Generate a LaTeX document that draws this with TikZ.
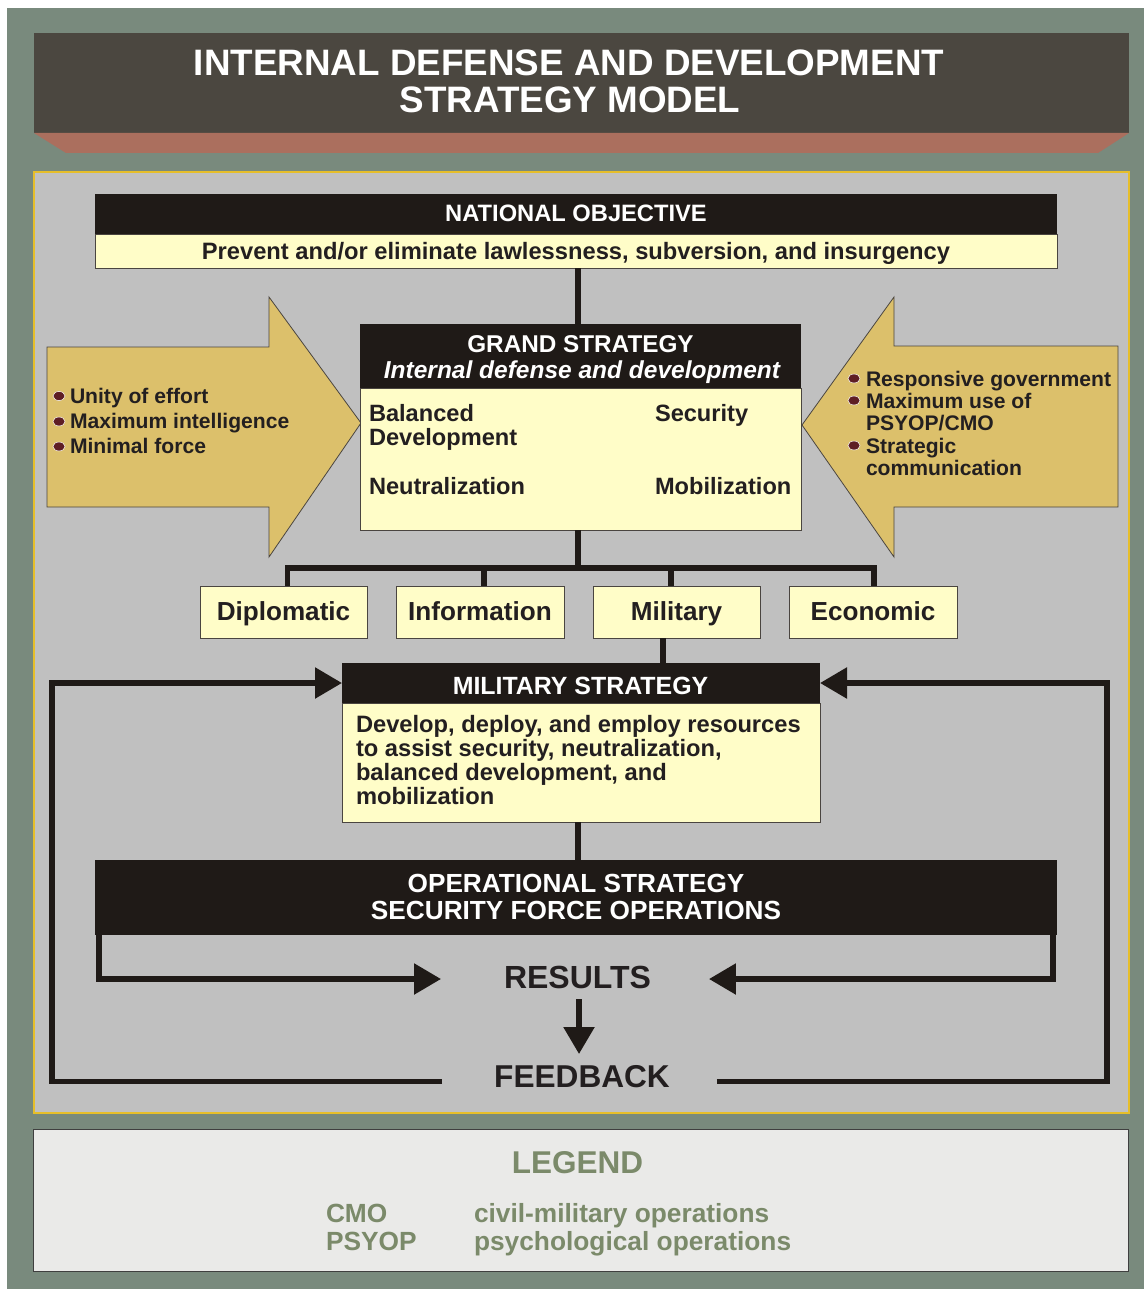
\documentclass[tikz,border=0pt]{standalone}
\usepackage{fontspec}
\setmainfont{Liberation Sans}
\usetikzlibrary{arrows.meta,calc}
\definecolor{bggreen}{HTML}{798A7D}
\definecolor{titlebg}{HTML}{4B4740}
\definecolor{salmon}{HTML}{AB6F5E}
\definecolor{panelgray}{HTML}{C0C0C0}
\definecolor{panelborder}{HTML}{E6BE2A}
\definecolor{hdrblack}{HTML}{1F1A17}
\definecolor{pale}{HTML}{FFFDC8}
\definecolor{gold}{HTML}{DCC06B}
\definecolor{bulletc}{HTML}{5E1E24}
\definecolor{legfill}{HTML}{EAEAE8}
\definecolor{legborder}{HTML}{3F3F3F}
\definecolor{legtext}{HTML}{7B8A6A}
\definecolor{darktext}{HTML}{231F20}
\definecolor{edge}{HTML}{4A4540}
\newcommand{\myfs}[1]{\fontsize{#1}{#1}\selectfont\bfseries}
\begin{document}
\begin{tikzpicture}[x=1pt,y=-1pt,
  box/.style={rectangle,inner sep=0pt,outer sep=0pt,anchor=north west},
  hdr/.style={box,fill=hdrblack},
  body/.style={box,fill=pale,draw=edge,line width=0.9pt},
  lbl/.style={inner sep=0pt,outer sep=0pt,anchor=base,text=darktext},
  lblw/.style={inner sep=0pt,outer sep=0pt,anchor=base west,text=darktext},
  conn/.style={draw=hdrblack,line width=5.5pt},
  arr/.style={-{Triangle[length=27pt,width=30pt]}},
  bigarrow/.style={fill=gold,draw=edge,line width=0.8pt,line join=miter},
  bullet/.style={fill=bulletc,draw=white,line width=0.5pt}
]
\useasboundingbox (0,0) rectangle (1144,1289);
\fill[bggreen] (7,8) rectangle (1144,1289);
% title
\node[box,fill=titlebg,minimum width=1095pt,minimum height=100pt] (titlebox) at (34,33) {};
\fill[salmon] (34,133) -- (1129,133) -- (1098,153) -- (66,153) -- cycle;
\node[lbl,text=white,font=\myfs{36.8}] (t1) at (569,76) {INTERNAL DEFENSE AND DEVELOPMENT};
\node[lbl,text=white,font=\myfs{36.8}] (t2) at (570,113) {STRATEGY MODEL};
% panels
\node[box,fill=panelgray,draw=panelborder,line width=1.2pt,minimum width=1095pt,minimum height=941pt] (panel) at (34,172) {};
\node[box,fill=legfill,draw=legborder,line width=1pt,minimum width=1095pt,minimum height=142pt] (legend) at (33,1129) {};
% side arrows
\draw[bigarrow] (47,347) -- (269,347) -- (269,297) -- (361,423) -- (269,557) -- (269,507) -- (47,507) -- cycle;
\draw[bigarrow] (1118,346) -- (894,346) -- (894,297) -- (802,425) -- (894,557) -- (894,507) -- (1118,507) -- cycle;
% national objective
\node[hdr,minimum width=962pt,minimum height=40pt] (natH) at (95,194) {};
\node[body,minimum width=962pt,minimum height=34pt] (natB) at (95,234) {};
\node[lbl,text=white,font=\myfs{23.7}] (natT) at (576,222) {NATIONAL OBJECTIVE};
\node[lbl,font=\myfs{23.7}] (natS) at (576,259) {Prevent and/or eliminate lawlessness, subversion, and insurgency};
% grand strategy
\node[hdr,minimum width=441pt,minimum height=64pt] (gsH) at (360,324) {};
\node[body,minimum width=441pt,minimum height=142pt] (gsB) at (360,388) {};
\node[lbl,text=white,font=\myfs{24.3}] (gsT) at (580.5,352.5) {GRAND STRATEGY};
\node[lbl,text=white,font=\myfs{24.5}\itshape] (gsI) at (582,378.5) {Internal defense and development};
\node[lblw,font=\myfs{23.6}] (gs1) at (369,421.5) {Balanced};
\node[lblw,font=\myfs{23.6}] (gs2) at (369,445.5) {Development};
\node[lblw,font=\myfs{23.6}] (gs3) at (369,494) {Neutralization};
\node[lblw,font=\myfs{23.6}] (gs4) at (655,421.5) {Security};
\node[lblw,font=\myfs{23.6}] (gs5) at (655,494) {Mobilization};
% left arrow text
\fill[bullet] (59,396) ellipse [x radius=6pt,y radius=4.5pt];
\fill[bullet] (59,421.5) ellipse [x radius=6pt,y radius=4.5pt];
\fill[bullet] (59,446.5) ellipse [x radius=6pt,y radius=4.5pt];
\node[lblw,font=\myfs{21.1}] (la1) at (70,403.5) {Unity of effort};
\node[lblw,font=\myfs{21.1}] (la2) at (70,428.5) {Maximum intelligence};
\node[lblw,font=\myfs{21.1}] (la3) at (70,453.5) {Minimal force};
% right arrow text
\fill[bullet] (854,378.5) ellipse [x radius=6pt,y radius=4.5pt];
\fill[bullet] (854,400.5) ellipse [x radius=6pt,y radius=4.5pt];
\fill[bullet] (854,445.5) ellipse [x radius=6pt,y radius=4.5pt];
\node[lblw,font=\myfs{21.1}] (ra1) at (866,386) {Responsive government};
\node[lblw,font=\myfs{21.1}] (ra2) at (866,408) {Maximum use of};
\node[lblw,font=\myfs{21.1}] (ra3) at (866,430.5) {PSYOP/CMO};
\node[lblw,font=\myfs{21.1}] (ra4) at (866,453) {Strategic};
\node[lblw,font=\myfs{21.1}] (ra5) at (866,475.5) {communication};
% instruments
\node[body,minimum width=167pt,minimum height=52pt] (dip) at (200,586) {};
\node[body,minimum width=168pt,minimum height=52pt] (info) at (396,586) {};
\node[body,minimum width=167pt,minimum height=52pt] (mil) at (593,586) {};
\node[body,minimum width=168pt,minimum height=52pt] (eco) at (789,586) {};
\node[lbl,font=\myfs{26.1}] (dipT) at (283.5,620.5) {Diplomatic};
\node[lbl,font=\myfs{26.1}] (infoT) at (480,620.5) {Information};
\node[lbl,font=\myfs{26.1}] (milT) at (676.5,620.5) {Military};
\node[lbl,font=\myfs{26.1}] (ecoT) at (873,620.5) {Economic};
% military strategy
\node[hdr,minimum width=478pt,minimum height=40pt] (msH) at (342,663) {};
\node[body,minimum width=478pt,minimum height=119pt] (msB) at (342,703) {};
\node[lbl,text=white,font=\myfs{24.9}] (msT) at (580.5,694.5) {MILITARY STRATEGY};
\node[lblw,font=\myfs{23.7}] (ms1) at (356,732) {Develop, deploy, and employ resources};
\node[lblw,font=\myfs{23.7}] (ms2) at (356,756) {to assist security, neutralization,};
\node[lblw,font=\myfs{23.7}] (ms3) at (356,780) {balanced development, and};
\node[lblw,font=\myfs{23.7}] (ms4) at (356,804) {mobilization};
% operational strategy
\node[hdr,minimum width=962pt,minimum height=75pt] (opS) at (95,860) {};
\node[lbl,text=white,font=\myfs{26.2}] (op1) at (576,892) {OPERATIONAL STRATEGY};
\node[lbl,text=white,font=\myfs{26.2}] (op2) at (576,919) {SECURITY FORCE OPERATIONS};
% results / feedback
\node[lbl,font=\myfs{32}] (results) at (577.5,988) {RESULTS};
\node[lbl,font=\myfs{31.6}] (feedback) at (582,1087) {FEEDBACK};
% legend text
\node[lbl,text=legtext,font=\myfs{31.5}] (legT) at (577.5,1173.5) {LEGEND};
\node[lblw,text=legtext,font=\myfs{26.3}] (lg1) at (326,1222) {CMO};
\node[lblw,text=legtext,font=\myfs{26.3}] (lg2) at (326,1250.5) {PSYOP};
\node[lblw,text=legtext,font=\myfs{26.3}] (lg3) at (474,1222) {civil-military operations};
\node[lblw,text=legtext,font=\myfs{26.3}] (lg4) at (474,1250.5) {psychological operations};
% connectors
\draw[conn] (578,0 |- natB.south) -- (578,0 |- gsH.north);
\draw[conn] (578,0 |- gsB.south) -- (578,568);
\draw[conn] ([xshift=4pt]dip.north) -- ([xshift=4pt]dip.north |- 0,568) -- ([xshift=1pt]eco.north |- 0,568) -- ([xshift=1pt]eco.north);
\draw[conn] ([xshift=4pt]info.north) -- ([xshift=4pt]info.north |- 0,568);
\draw[conn] ([xshift=-5.5pt]mil.north) -- ([xshift=-5.5pt]mil.north |- 0,568);
\draw[conn] (663,0 |- mil.south) -- (663,0 |- msH.north);
\draw[conn] (578,0 |- msB.south) -- (578,0 |- opS.north);
\draw[conn,arr] (99,0 |- opS.south) -- (99,979) -- ([xshift=-63pt]results.west |- 0,979);
\draw[conn,arr] (1053,0 |- opS.south) -- (1053,979) -- ([xshift=58pt]results.east |- 0,979);
\coordinate (fbtop) at (579,1054);
\draw[conn,arr] (579,999) -- (fbtop);
\draw[conn,arr] ([xshift=-52pt]feedback.west |- 0,1081.5) -- (52,1081.5) -- (52,0 |- msH.west) -- (msH.west);
\draw[conn,arr] ([xshift=47pt]feedback.east |- 0,1081.5) -- (1107,1081.5) -- (1107,0 |- msH.east) -- (msH.east);
\end{tikzpicture}
\end{document}
